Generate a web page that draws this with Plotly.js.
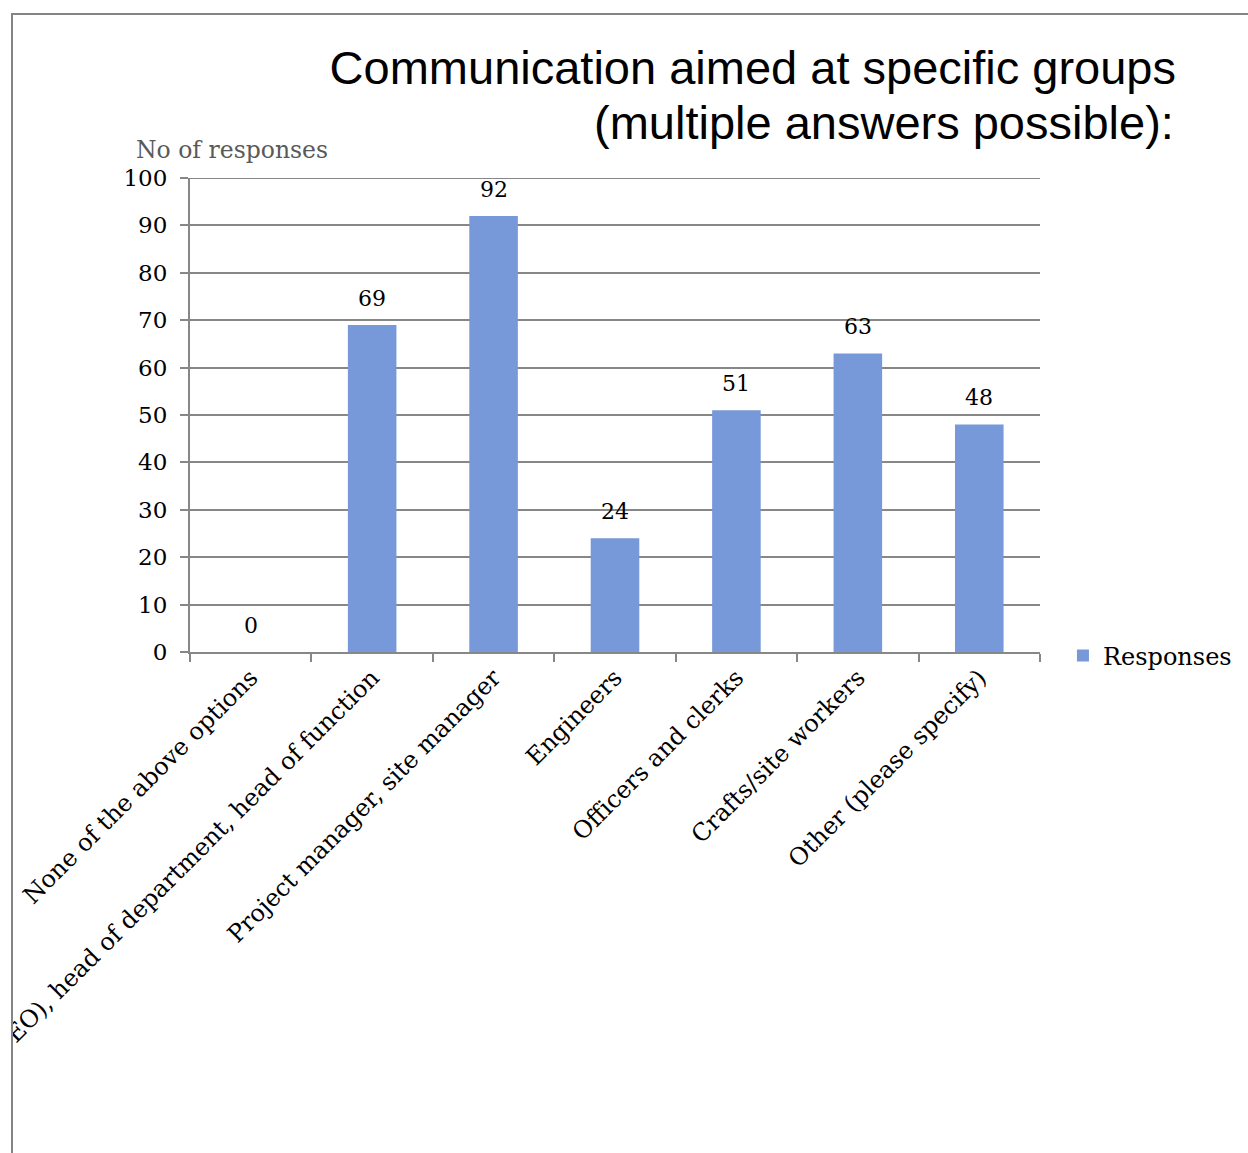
<!DOCTYPE html>
<html><head><meta charset="utf-8">
<script src="https://cdn.plot.ly/plotly-3.0.1.min.js"></script>
<style>
html,body{margin:0;padding:0;background:#fff;}
#chart{position:absolute;left:0;top:0;width:1248px;height:1153px;}
#mask{position:absolute;left:0;top:0;width:12px;height:1153px;background:#fff;}
#frame{position:absolute;left:11px;top:13px;width:1300px;height:1300px;border-left:2px solid #858585;border-top:2px solid #858585;pointer-events:none;}
</style></head>
<body>
<div id="chart"></div><div id="mask"></div><div id="frame"></div>
<script>
const categories = [
  "None of the above options",
  "Top management (CEO), head of department, head of function",
  "Project manager, site manager",
  "Engineers",
  "Officers and clerks",
  "Crafts/site workers",
  "Other (please specify)"
];
const responses = [0, 69, 92, 24, 51, 63, 48];
const yTicks = [0,10,20,30,40,50,60,70,80,90,100];
const titleLines = ["Communication aimed at specific groups", "(multiple answers possible):"];

const serif = "DejaVu Serif, serif";
const sans = "Liberation Sans, Arial, sans-serif";
const grid = "#878787";
const yMax = yTicks[yTicks.length - 1];

const trace = {
  type: "bar", x: categories, y: responses, name: "Responses",
  marker: {color: "#7799D9"}, showlegend: true, hoverinfo: "none"
};

const labels = categories.map((c,i)=>({
  x: c, y: responses[i], xref: "x", yref: "y", text: String(responses[i]),
  showarrow: false, yanchor: "bottom", yshift: 12,
  font: {family: serif, size: 22, color: "#000"}
}));

const layout = {
  width: 1248, height: 1153,
  margin: {l: 190, r: 208, t: 178, b: 501, autoexpand: false},
  paper_bgcolor: "#fff", plot_bgcolor: "#fff",
  bargap: 0.6,
  title: {
    text: titleLines[0],
    xref: "container", yref: "container", x: 1176/1248, xanchor: "right",
    y: 1 - 68/1153, yanchor: "middle",
    font: {family: sans, size: 47, color: "#000"}
  },
  xaxis: {
    type: "category", tickangle: -45, showgrid: false, showline: true,
    linecolor: grid, linewidth: 2, ticks: "outside", tickson: "boundaries",
    ticklen: 8, tickwidth: 2, tickcolor: grid, automargin: false,
    tickfont: {family: serif, size: 24, color: "#000"}
  },
  yaxis: {
    range: [0, yMax], tickvals: yTicks, showgrid: true, gridcolor: grid, gridwidth: 2,
    showline: true, linecolor: grid, linewidth: 2, ticks: "outside", ticklen: 8,
    tickwidth: 2, tickcolor: grid, zeroline: false, automargin: false,
    ticklabelstandoff: 8,
    tickfont: {family: serif, size: 23, color: "#000"}
  },
  shapes: [{
    type: "line", xref: "paper", yref: "y", x0: 0, x1: 1, y0: yMax, y1: yMax,
    line: {color: grid, width: 2}, layer: "below"
  }],
  legend: {
    x: 1.027, xanchor: "left", y: -0.008, yanchor: "middle",
    font: {family: serif, size: 24, color: "#000"}, itemwidth: 30
  },
  annotations: labels.concat([{
    text: "No of responses", xref: "paper", yref: "paper",
    x: -56/850, xanchor: "left", y: 1 + 28/474, yanchor: "middle",
    showarrow: false, font: {family: serif, size: 23.5, color: "#595959"}
  }, {
    text: titleLines[1], xref: "paper", yref: "paper",
    x: (1176-190)/850, xanchor: "right", y: (652-122)/474, yanchor: "middle",
    showarrow: false, font: {family: sans, size: 47, color: "#000"}
  }])
};

Plotly.newPlot("chart", [trace], layout, {staticPlot: true});
</script>
</body></html>
